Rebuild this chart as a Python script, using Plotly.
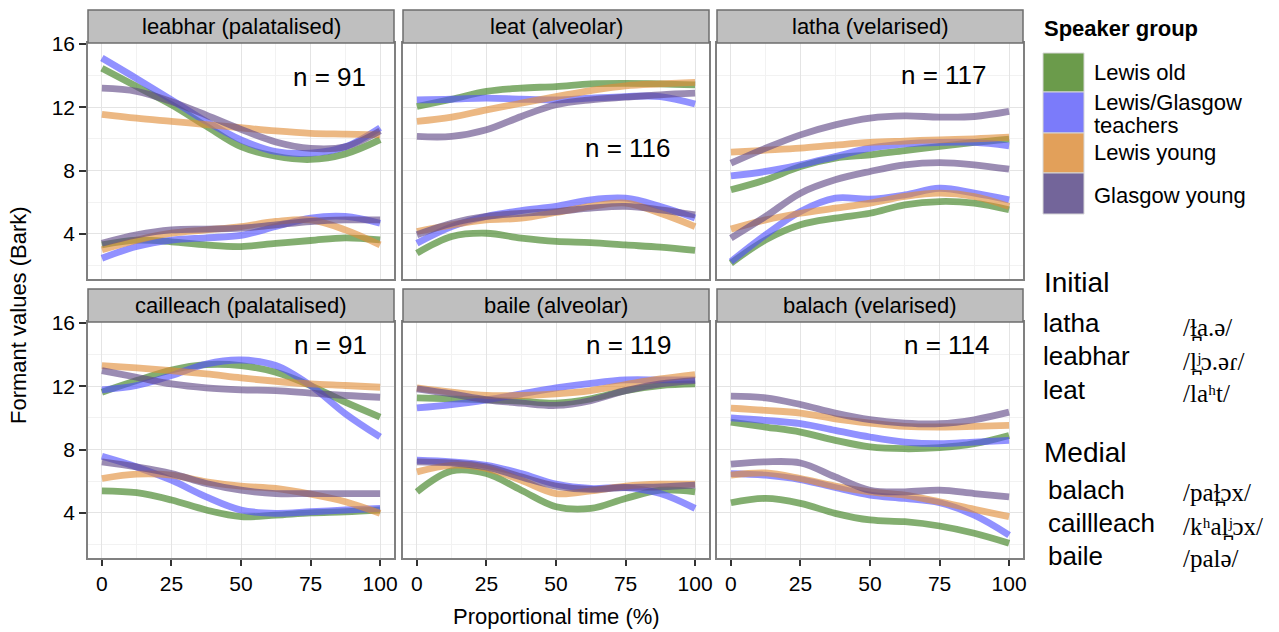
import plotly.graph_objects as go

W, H = 1279, 632

# Proportional time sample points (%)
time_pct = [0, 12.5, 25, 37.5, 50, 62.5, 75, 87.5, 100]

groups = ["Lewis old", "Lewis/Glasgow teachers", "Lewis young", "Glasgow young"]
line_colors = {
    "Lewis old": "rgba(55,124,24,0.62)",
    "Lewis/Glasgow teachers": "rgba(78,78,255,0.62)",
    "Lewis young": "rgba(224,140,55,0.62)",
    "Glasgow young": "rgba(93,70,132,0.62)",
}
key_colors = {
    "Lewis old": "#6b9b4b",
    "Lewis/Glasgow teachers": "#7b7bfa",
    "Lewis young": "#e2a05a",
    "Glasgow young": "#73659a",
}

# Smoothed formant trajectories (Bark), one list per speaker group
leabhar_f2 = {
    "Lewis old": [14.46, 13.3, 12.15, 10.8, 9.5, 8.9, 8.7, 9.05, 9.95],
    "Lewis/Glasgow teachers": [15.1, 13.8, 12.46, 11.1, 9.94, 9.2, 9.1, 9.5, 10.7],
    "Lewis young": [11.55, 11.3, 11.1, 10.9, 10.7, 10.5, 10.35, 10.3, 10.25],
    "Glasgow young": [13.2, 13.0, 12.35, 11.5, 10.6, 9.8, 9.4, 9.5, 10.5],
}
leabhar_f1 = {
    "Lewis old": [3.3, 3.6, 3.5, 3.3, 3.2, 3.4, 3.58, 3.75, 3.62],
    "Lewis/Glasgow teachers": [2.46, 3.2, 3.6, 3.75, 3.9, 4.46, 5.0, 5.1, 4.67],
    "Lewis young": [2.99, 3.6, 4.04, 4.25, 4.46, 4.78, 4.88, 4.25, 3.3],
    "Glasgow young": [3.41, 3.94, 4.25, 4.3, 4.36, 4.57, 4.78, 4.88, 4.88],
}
leat_f2 = {
    "Lewis old": [12.04, 12.5, 12.99, 13.2, 13.3, 13.47, 13.5, 13.47, 13.4],
    "Lewis/Glasgow teachers": [12.46, 12.5, 12.57, 12.5, 12.46, 12.57, 12.67, 12.67, 12.2],
    "Lewis young": [11.1, 11.37, 11.83, 12.25, 12.67, 13.05, 13.35, 13.47, 13.56],
    "Glasgow young": [10.15, 10.15, 10.57, 11.41, 12.15, 12.46, 12.63, 12.78, 12.88],
}
leat_f1 = {
    "Lewis old": [2.78, 3.83, 4.04, 3.73, 3.52, 3.45, 3.3, 3.16, 2.95],
    "Lewis/Glasgow teachers": [3.41, 4.46, 5.1, 5.47, 5.73, 6.15, 6.25, 5.73, 5.0],
    "Lewis young": [4.15, 4.57, 4.88, 4.99, 5.35, 5.73, 5.94, 5.3, 4.46],
    "Glasgow young": [3.94, 4.67, 5.1, 5.3, 5.41, 5.62, 5.73, 5.52, 5.2],
}
latha_f2 = {
    "Lewis old": [6.78, 7.41, 8.25, 8.78, 8.99, 9.26, 9.52, 9.77, 9.98],
    "Lewis/Glasgow teachers": [7.66, 7.94, 8.36, 8.88, 9.41, 9.68, 9.77, 9.77, 9.56],
    "Lewis young": [9.16, 9.28, 9.41, 9.6, 9.77, 9.86, 9.94, 10.0, 10.1],
    "Glasgow young": [8.46, 9.41, 10.25, 10.88, 11.31, 11.45, 11.37, 11.41, 11.73],
}
latha_f1 = {
    "Lewis old": [2.15, 3.62, 4.57, 4.99, 5.3, 5.83, 6.04, 5.94, 5.52],
    "Lewis/Glasgow teachers": [2.25, 3.94, 5.41, 6.25, 6.19, 6.46, 6.88, 6.57, 6.15],
    "Lewis young": [4.3, 4.88, 5.3, 5.62, 5.94, 6.36, 6.57, 6.36, 5.73],
    "Glasgow young": [3.73, 5.1, 6.57, 7.41, 7.94, 8.36, 8.5, 8.36, 8.08],
}
cailleach_f2 = {
    "Lewis old": [11.62, 12.35, 13.02, 13.36, 13.3, 12.88, 12.04, 10.99, 10.05],
    "Lewis/Glasgow teachers": [11.77, 12.04, 12.67, 13.4, 13.65, 13.3, 12.04, 10.26, 8.79],
    "Lewis young": [13.3, 13.15, 12.98, 12.77, 12.52, 12.31, 12.14, 12.04, 11.93],
    "Glasgow young": [12.98, 12.56, 12.14, 11.89, 11.77, 11.72, 11.56, 11.41, 11.3],
}
cailleach_f1 = {
    "Lewis old": [5.39, 5.27, 4.81, 4.18, 3.76, 3.86, 4.0, 4.07, 4.18],
    "Lewis/Glasgow teachers": [7.57, 6.9, 6.06, 5.01, 4.18, 3.97, 4.07, 4.18, 4.28],
    "Lewis young": [6.17, 6.44, 6.38, 5.96, 5.69, 5.54, 5.18, 4.7, 3.97],
    "Glasgow young": [7.22, 6.9, 6.48, 5.85, 5.43, 5.22, 5.22, 5.22, 5.22],
}
baile_f2 = {
    "Lewis old": [11.26, 11.2, 11.14, 11.05, 10.93, 11.2, 11.72, 12.04, 12.14],
    "Lewis/Glasgow teachers": [10.63, 10.84, 11.14, 11.51, 11.89, 12.18, 12.39, 12.39, 12.39],
    "Lewis young": [11.89, 11.62, 11.41, 11.41, 11.51, 11.72, 12.1, 12.46, 12.73],
    "Glasgow young": [11.83, 11.51, 11.14, 10.93, 10.78, 11.09, 11.72, 12.14, 12.35],
}
baile_f1 = {
    "Lewis old": [5.33, 6.65, 6.48, 5.43, 4.39, 4.28, 4.91, 5.43, 5.33],
    "Lewis/Glasgow teachers": [7.32, 7.22, 7.0, 6.48, 5.81, 5.54, 5.6, 5.22, 4.28],
    "Lewis young": [6.59, 7.0, 6.8, 6.06, 5.22, 5.39, 5.69, 5.81, 5.81],
    "Glasgow young": [7.22, 7.15, 6.9, 6.27, 5.69, 5.48, 5.6, 5.64, 5.75],
}
balach_f2 = {
    "Lewis old": [9.73, 9.42, 9.1, 8.58, 8.16, 8.05, 8.12, 8.37, 8.89],
    "Lewis/Glasgow teachers": [10.0, 9.84, 9.63, 9.21, 8.79, 8.47, 8.37, 8.47, 8.58],
    "Lewis young": [10.61, 10.47, 10.3, 9.94, 9.67, 9.46, 9.42, 9.46, 9.52],
    "Glasgow young": [11.37, 11.26, 10.84, 10.3, 9.88, 9.67, 9.63, 9.88, 10.36],
}
balach_f1 = {
    "Lewis old": [4.64, 4.91, 4.6, 3.97, 3.55, 3.44, 3.17, 2.71, 2.08],
    "Lewis/Glasgow teachers": [6.48, 6.38, 6.1, 5.6, 5.12, 4.91, 4.64, 3.86, 2.6],
    "Lewis young": [6.38, 6.52, 6.17, 5.69, 5.33, 5.12, 4.7, 4.22, 3.76],
    "Glasgow young": [7.07, 7.22, 7.15, 6.27, 5.43, 5.33, 5.43, 5.22, 5.01],
}

panel_titles = ["leabhar (palatalised)", "leat (alveolar)", "latha (velarised)",
                "cailleach (palatalised)", "baile (alveolar)", "balach (velarised)"]
panel_counts = [91, 116, 117, 91, 119, 114]
panel_data = [
    (leabhar_f1, leabhar_f2), (leat_f1, leat_f2), (latha_f1, latha_f2),
    (cailleach_f1, cailleach_f2), (baile_f1, baile_f2), (balach_f1, balach_f2),
]
# where the n label sits in each panel (data coords, right-anchored)
count_pos = [(95.7, 13.9), (92, 9.45), (92.8, 14.0), (96, 14.6), (92.5, 14.6), (93.8, 14.6)]

FONT = "Liberation Sans, Arial, Helvetica, sans-serif"
SERIF = "Liberation Serif, DejaVu Serif, Times New Roman, serif"

# panel geometry in pixels
col_px = [(88, 394), (403, 709), (717, 1023)]
row_px = [(43, 279), (322, 558)]
strip_px = [(10, 43), (289, 322)]


def px_x(v):
    return v / W


def px_y(v):
    return 1 - v / H


fig = go.Figure()
layout = dict(
    width=W, height=H, margin=dict(l=0, r=0, t=0, b=0, pad=0, autoexpand=False),
    paper_bgcolor="white", plot_bgcolor="white", showlegend=False,
    font=dict(family=FONT, color="black"),
)
shapes = []
annotations = []

for i, (title, n, (f1, f2), (nx, ny)) in enumerate(zip(panel_titles, panel_counts, panel_data, count_pos)):
    r, c = divmod(i, 3)
    k = i + 1
    xa = "x" if k == 1 else f"x{k}"
    ya = "y" if k == 1 else f"y{k}"
    for g in groups:
        for series in (f1, f2):
            fig.add_trace(go.Scatter(
                x=time_pct, y=series[g], mode="lines", xaxis=xa, yaxis=ya,
                line=dict(color=line_colors[g], width=6.8, shape="spline", smoothing=1.0),
                name=g, hoverinfo="skip",
            ))
    x0, x1 = col_px[c]
    y0, y1 = row_px[r]
    layout[f"xaxis{k if k > 1 else ''}"] = dict(
        domain=[px_x(x0), px_x(x1)], range=[-5, 105], anchor=ya, automargin=False,
        tickvals=[0, 25, 50, 75, 100], showticklabels=(r == 1),
        ticks="outside" if r == 1 else "", ticklen=6, tickwidth=2, tickcolor="#333333",
        tickfont=dict(size=21, family=FONT, color="black"),
        showgrid=True, gridcolor="#e4e4e4", gridwidth=1,
        minor=dict(tickvals=[12.5, 37.5, 62.5, 87.5], showgrid=True, gridcolor="#f2f2f2", gridwidth=1),
        showline=True, mirror=True, linecolor="#808080", linewidth=1.5, zeroline=False,
    )
    layout[f"yaxis{k if k > 1 else ''}"] = dict(
        domain=[px_y(y1), px_y(y0)], range=[1.15, 16.05], anchor=xa, automargin=False,
        tickvals=[4, 8, 12, 16], showticklabels=(c == 0),
        ticks="outside" if c == 0 else "", ticklen=7, tickwidth=2, tickcolor="#333333",
        tickfont=dict(size=21, family=FONT, color="black"),
        showgrid=True, gridcolor="#e4e4e4", gridwidth=1,
        minor=dict(tickvals=[2, 6, 10, 14], showgrid=True, gridcolor="#f2f2f2", gridwidth=1),
        showline=True, mirror=True, linecolor="#808080", linewidth=1.5, zeroline=False,
    )
    s0, s1 = strip_px[r]
    shapes.append(dict(type="rect", xref="paper", yref="paper",
                       x0=px_x(x0), x1=px_x(x1), y0=px_y(s1), y1=px_y(s0),
                       fillcolor="#bfbfbf", line=dict(color="#6e6e6e", width=1.5), layer="above"))
    annotations.append(dict(text=title, xref="paper", yref="paper",
                            x=px_x((x0 + x1) / 2), y=px_y((s0 + s1) / 2),
                            xanchor="center", yanchor="middle", showarrow=False,
                            font=dict(size=22, family=FONT, color="black")))
    annotations.append(dict(text=f"n = {n}", xref=xa, yref=ya, x=nx, y=ny,
                            xanchor="right", yanchor="middle", showarrow=False,
                            font=dict(size=26, family=FONT, color="black")))

# axis titles
annotations.append(dict(text="Formant values (Bark)", xref="paper", yref="paper",
                        x=px_x(18), y=px_y(315), textangle=-90, showarrow=False,
                        xanchor="center", yanchor="middle",
                        font=dict(size=22, family=FONT, color="black")))
annotations.append(dict(text="Proportional time (%)", xref="paper", yref="paper",
                        x=px_x(556), y=px_y(616), showarrow=False,
                        xanchor="center", yanchor="middle",
                        font=dict(size=22, family=FONT, color="black")))

# legend
annotations.append(dict(text="<b>Speaker group</b>", xref="paper", yref="paper",
                        x=px_x(1042), y=px_y(28), xanchor="left", yanchor="middle",
                        showarrow=False, font=dict(size=22, family=FONT, color="black")))
key_rows = [(53, 92), (92, 133), (133, 173), (173, 214)]
label_rows = {
    "Lewis old": [("Lewis old", 73)],
    "Lewis/Glasgow teachers": [("Lewis/Glasgow", 103), ("teachers", 126)],
    "Lewis young": [("Lewis young", 153)],
    "Glasgow young": [("Glasgow young", 195)],
}
for g, (k0, k1) in zip(groups, key_rows):
    shapes.append(dict(type="rect", xref="paper", yref="paper",
                       x0=px_x(1043), x1=px_x(1084), y0=px_y(k1), y1=px_y(k0),
                       fillcolor=key_colors[g], line=dict(color="#d6d6d6", width=1)))
    for txt, ty in label_rows[g]:
        annotations.append(dict(text=txt, xref="paper", yref="paper",
                                x=px_x(1092), y=px_y(ty), xanchor="left", yanchor="middle",
                                showarrow=False, font=dict(size=22, family=FONT, color="black")))

# transcription key
headings = [("Initial", 1042, 283), ("Medial", 1042, 452)]
for txt, hx, hy in headings:
    annotations.append(dict(text=txt, xref="paper", yref="paper", x=px_x(hx), y=px_y(hy),
                            xanchor="left", yanchor="middle", showarrow=False,
                            font=dict(size=28, family=FONT, color="black")))
words = [
    ("latha", "/\u026b\u032aa.\u0259/", 1041, 323, 327),
    ("leabhar", "/l\u032a\u02b2\u0254.\u0259\u027e/", 1041, 356, 361),
    ("leat", "/la\u02b0t/", 1041, 390, 393),
    ("balach", "/pa\u026b\u032a\u0254x/", 1046, 490, 492),
    ("caillleach", "/k\u02b0al\u032a\u02b2\u0254x/", 1046, 523, 526),
    ("baile", "/pal\u0259/", 1046, 556, 558),
]
for w, ipa, wx, wy, iy in words:
    annotations.append(dict(text=w, xref="paper", yref="paper", x=px_x(wx), y=px_y(wy),
                            xanchor="left", yanchor="middle", showarrow=False,
                            font=dict(size=26, family=FONT, color="black")))
    annotations.append(dict(text=ipa, xref="paper", yref="paper", x=px_x(1181), y=px_y(iy),
                            xanchor="left", yanchor="middle", showarrow=False,
                            font=dict(size=25, family=SERIF, color="black")))

layout["shapes"] = shapes
layout["annotations"] = annotations
fig.update_layout(**layout)
fig.write_html("out.html")
